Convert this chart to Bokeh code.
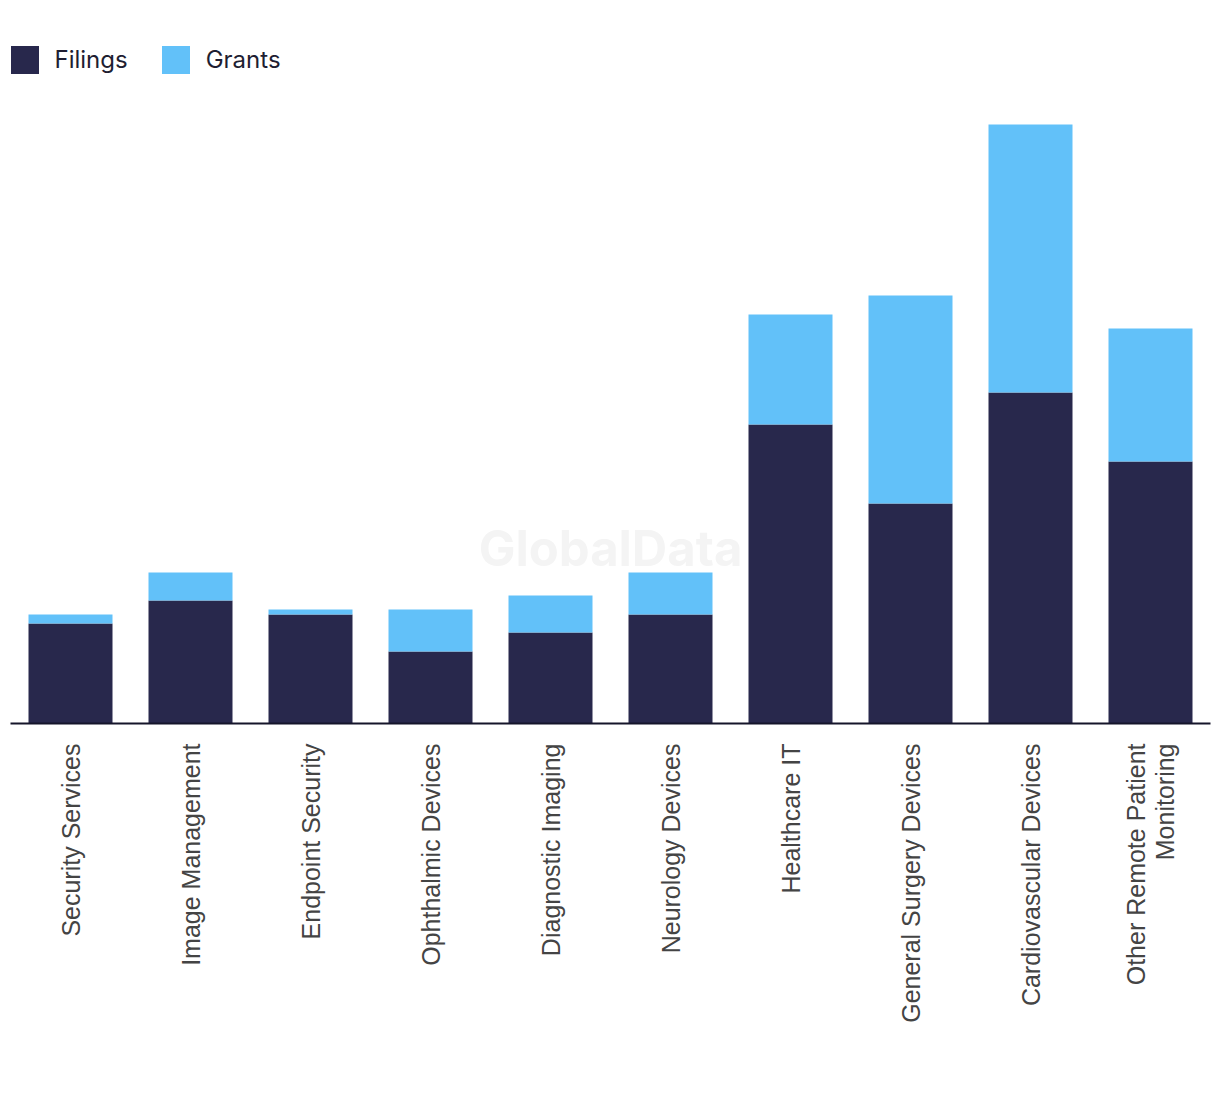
from bokeh.plotting import figure
from bokeh.models import ColumnDataSource, FactorRange, Range1d, Label, Legend
from bokeh.embed import file_html
from bokeh.resources import INLINE
import math

categories = [
    "Security Services", "Image Management", "Endpoint Security",
    "Ophthalmic Devices", "Diagnostic Imaging", "Neurology Devices",
    "Healthcare IT", "General Surgery Devices", "Cardiovascular Devices",
    "Other Remote Patient\nMonitoring",
]
filings = [100, 123, 109, 72, 91, 109, 299, 220, 331, 262]
grants = [9, 28, 5, 42, 37, 42, 110, 208, 268, 133]

FIL_COLOR = "#28284c"
GRA_COLOR = "#62c1f9"

source = ColumnDataSource(dict(cat=categories, filings=filings, grants=grants))

p = figure(
    width=1220, height=1094,
    x_range=FactorRange(factors=categories),
    y_range=Range1d(0, 678),
    output_backend="svg", toolbar_location=None,
    min_border_left=10, min_border_right=10,
    min_border_top=45, min_border_bottom=371,
    y_axis_location=None,
)
p.outline_line_color = None
p.xgrid.grid_line_color = None
p.ygrid.grid_line_color = None
p.background_fill_color = "white"
p.border_fill_color = "white"

wm = Label(x=5, y=175, text="GlobalData", text_align="center", text_baseline="middle",
           text_font="Inter", text_font_style="bold", text_font_size="49px",
           text_color="#f4f4f4", level="underlay")
p.add_layout(wm)

r = p.vbar_stack(["filings", "grants"], x="cat", width=0.7, color=[FIL_COLOR, GRA_COLOR],
                 line_color=None, source=source)

legend = Legend(items=[("Filings", [r[0]]), ("Grants", [r[1]])],
                location=(-3.5, 646.5), orientation="horizontal",
                glyph_width=35, glyph_height=35, label_standoff=13, spacing=30,
                padding=0, margin=0, border_line_color=None, background_fill_alpha=0,
                label_text_font="Inter", label_text_font_size="24px",
                label_text_color="#1e1e32", label_height=35)
p.add_layout(legend)

ax = p.xaxis[0]
ax.axis_line_color = "#15152a"
ax.axis_line_width = 2
ax.major_tick_line_color = None
ax.minor_tick_line_color = None
ax.major_tick_out = 0
ax.major_tick_in = 0
ax.major_label_orientation = math.pi / 2
ax.major_label_standoff = 20
ax.major_label_text_font = "Liberation Sans"
ax.major_label_text_font_size = "25px"
ax.major_label_text_color = "#444444"
ax.major_label_text_line_height = 1.05

open("out.html", "w").write(file_html(p, INLINE))
